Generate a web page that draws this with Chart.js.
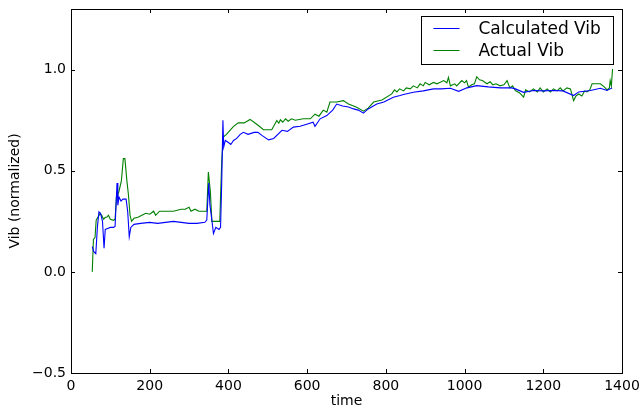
<!DOCTYPE html>
<html>
<head>
<meta charset="utf-8">
<script src="https://cdn.jsdelivr.net/npm/chart.js@4/dist/chart.umd.min.js"></script>
<style>
  html, body { margin: 0; padding: 0; background: #fff; }
  #wrap { width: 641px; height: 413px; }
</style>
</head>
<body>
<div id="wrap"><canvas id="grafico"></canvas></div>
<script>
/* ================= DADOS ================= */
const xTicks = [0, 200, 400, 600, 800, 1000, 1200, 1400];
const yTicks = [-0.5, 0.0, 0.5, 1.0];

const timeCalc = [54, 58, 63, 67, 71, 75, 80, 84, 87, 93, 100, 108, 112, 117, 119, 122, 127, 132, 140, 144, 148, 152,
  160, 177, 200, 220, 240, 260, 280, 300, 320, 340, 345, 350, 353, 357, 362, 368, 376, 380, 383, 386, 388, 392,
  400, 406, 413, 421, 430, 438, 450, 465, 475, 485, 502, 515, 536, 550, 565, 582, 599, 615, 620, 633, 650, 665,
  675, 690, 705, 718, 730, 743, 755, 777, 795, 819, 836, 845, 870, 895, 921, 940, 964, 985, 1006, 1031, 1060,
  1091, 1120, 1129, 1150, 1175, 1200, 1226, 1250, 1277, 1290, 1320, 1345, 1362, 1375];
const vibCalc = [0.125, 0.10, 0.09, 0.22, 0.297, 0.29, 0.25, 0.117, 0.21, 0.215, 0.22, 0.22, 0.225, 0.44, 0.33, 0.37,
  0.35, 0.36, 0.36, 0.30, 0.174, 0.22, 0.235, 0.24, 0.245, 0.24, 0.245, 0.25, 0.245, 0.24, 0.24, 0.245, 0.256,
  0.44, 0.33, 0.27, 0.19, 0.22, 0.21, 0.22, 0.45, 0.75, 0.617, 0.65, 0.64, 0.63, 0.65, 0.66, 0.68, 0.69, 0.68,
  0.69, 0.69, 0.675, 0.653, 0.66, 0.70, 0.695, 0.716, 0.72, 0.73, 0.74, 0.72, 0.757, 0.773, 0.80, 0.83, 0.82,
  0.815, 0.806, 0.80, 0.785, 0.806, 0.83, 0.84, 0.864, 0.872, 0.877, 0.888, 0.895, 0.905, 0.905, 0.908, 0.893,
  0.91, 0.921, 0.915, 0.91, 0.91, 0.905, 0.888, 0.897, 0.895, 0.897, 0.895, 0.872, 0.89, 0.897, 0.908, 0.897, 0.91];

const timeActual = [54, 57, 61, 64, 69, 74, 78, 83, 87, 91, 95, 100, 108, 112, 116, 119, 122, 128, 133, 137, 142, 146,
  150, 154, 160, 170, 180, 190, 200, 210, 215, 225, 240, 260, 280, 290, 300, 305, 315, 325, 340, 345, 349, 354,
  358, 370, 378, 383, 387, 395, 404, 413, 425, 440, 455, 465, 476, 489, 510, 523, 528, 532, 538, 545, 552, 560,
  570, 590, 608, 620, 630, 641, 650, 658, 675, 692, 705, 726, 743, 755, 769, 790, 815, 822, 828, 835, 845, 852,
  862, 870, 880, 887, 895, 900, 910, 921, 930, 947, 955, 959, 964, 975, 980, 993, 1000, 1005, 1010, 1018, 1025,
  1031, 1038, 1045, 1057, 1065, 1072, 1080, 1090, 1100, 1108, 1115, 1122, 1129, 1140, 1150, 1155, 1165, 1175,
  1185, 1192, 1200, 1210, 1218, 1226, 1235, 1243, 1250, 1260, 1269, 1277, 1283, 1290, 1298, 1305, 1311, 1318,
  1324, 1345, 1355, 1362, 1368, 1370, 1373, 1376];
const vibActual = [0.0, 0.16, 0.17, 0.256, 0.272, 0.289, 0.28, 0.26, 0.27, 0.27, 0.28, 0.26, 0.255, 0.26, 0.388, 0.38,
  0.40, 0.45, 0.56, 0.56, 0.45, 0.38, 0.28, 0.25, 0.265, 0.27, 0.28, 0.29, 0.285, 0.30, 0.28, 0.30, 0.30, 0.30,
  0.31, 0.31, 0.32, 0.30, 0.31, 0.30, 0.30, 0.30, 0.494, 0.40, 0.25, 0.25, 0.25, 0.55, 0.667, 0.68, 0.70, 0.72,
  0.737, 0.737, 0.754, 0.74, 0.724, 0.703, 0.703, 0.749, 0.735, 0.752, 0.74, 0.757, 0.745, 0.757, 0.75, 0.757,
  0.757, 0.78, 0.77, 0.80, 0.79, 0.84, 0.84, 0.847, 0.83, 0.814, 0.795, 0.81, 0.84, 0.85, 0.88, 0.90, 0.89, 0.905,
  0.895, 0.91, 0.905, 0.92, 0.91, 0.93, 0.92, 0.937, 0.925, 0.937, 0.93, 0.946, 0.935, 0.962, 0.92, 0.93, 0.92,
  0.946, 0.935, 0.946, 0.913, 0.925, 0.93, 0.965, 0.95, 0.946, 0.93, 0.94, 0.925, 0.93, 0.92, 0.925, 0.946, 0.91,
  0.92, 0.897, 0.885, 0.864, 0.90, 0.89, 0.905, 0.89, 0.91, 0.89, 0.905, 0.89, 0.905, 0.895, 0.91, 0.895, 0.91,
  0.905, 0.847, 0.87, 0.88, 0.87, 0.895, 0.89, 0.90, 0.93, 0.93, 0.915, 0.90, 0.91, 0.946, 0.92, 1.003];

/* ================= AUXILIARES ================= */
function pares(xs, ys) {
  return xs.map((x, i) => ({ x: x, y: ys[i] }));
}

function formatarY(v) {
  const s = v.toFixed(1);
  return v < 0 ? "\u2212" + s.slice(1) : s;
}

const FONTE = '"DejaVu Sans", sans-serif';

/* moldura e ticks para dentro, nos quatro lados */
const moldura = {
  id: "moldura",
  afterDatasetsDraw(chart) {
    const ctx = chart.ctx;
    const a = chart.chartArea;
    const sx = chart.scales.x;
    const sy = chart.scales.y;
    ctx.save();
    ctx.strokeStyle = "#000";
    ctx.lineWidth = 1;
    ctx.beginPath();
    xTicks.forEach(v => {
      const px = Math.round(sx.getPixelForValue(v)) + 0.5;
      ctx.moveTo(px, a.bottom); ctx.lineTo(px, a.bottom - 4);
      ctx.moveTo(px, a.top); ctx.lineTo(px, a.top + 4);
    });
    yTicks.forEach(v => {
      const py = Math.round(sy.getPixelForValue(v)) + 0.5;
      ctx.moveTo(a.left, py); ctx.lineTo(a.left + 4, py);
      ctx.moveTo(a.right, py); ctx.lineTo(a.right - 4, py);
    });
    ctx.stroke();
    ctx.strokeRect(Math.round(a.left) + 0.5, Math.round(a.top) + 0.5,
      Math.round(a.right - a.left), Math.round(a.bottom - a.top));
    ctx.restore();
  }
};

/* legenda com caixa, canto superior direito */
const legenda = {
  id: "legenda",
  afterDraw(chart) {
    const ctx = chart.ctx;
    const a = chart.chartArea;
    const x0 = Math.round(a.right) - 200.5;
    const y0 = Math.round(a.top) + 7.5;
    ctx.save();
    ctx.fillStyle = "#fff";
    ctx.fillRect(x0, y0, 192, 48);
    ctx.strokeStyle = "#000";
    ctx.lineWidth = 1;
    ctx.strokeRect(x0, y0, 192, 48);
    ctx.font = "17px " + FONTE;
    ctx.textBaseline = "middle";
    chart.data.datasets.forEach((ds, i) => {
      const y = y0 + 12 + i * 22;
      ctx.strokeStyle = ds.borderColor;
      ctx.beginPath();
      ctx.moveTo(x0 + 12, y);
      ctx.lineTo(x0 + 38, y);
      ctx.stroke();
      ctx.fillStyle = "#000";
      ctx.fillText(ds.label, x0 + 57, y + 1);
    });
    ctx.restore();
  }
};

/* ================= GRÁFICO ================= */
const ctx = document.getElementById("grafico");

new Chart(ctx, {
  type: "line",
  data: {
    datasets: [
      {
        label: "Calculated Vib",
        data: pares(timeCalc, vibCalc),
        borderColor: "#0000ff",
        borderWidth: 1.1,
        pointRadius: 0,
        tension: 0
      },
      {
        label: "Actual Vib",
        data: pares(timeActual, vibActual),
        borderColor: "#008000",
        borderWidth: 1.1,
        pointRadius: 0,
        tension: 0
      }
    ]
  },
  options: {
    responsive: true,
    maintainAspectRatio: false,
    animation: false,
    layout: { padding: { left: 0, right: 19, top: 9, bottom: 0 } },
    plugins: {
      legend: { display: false },
      tooltip: { enabled: false }
    },
    scales: {
      x: {
        type: "linear",
        min: 0,
        max: 1400,
        grid: { display: false, drawTicks: false },
        border: { display: false },
        afterBuildTicks: s => { s.ticks = xTicks.map(v => ({ value: v })); },
        afterFit: s => { s.height = 40; s.paddingLeft = 0; s.paddingRight = 0; },
        ticks: {
          color: "#000",
          padding: 5,
          maxRotation: 0,
          font: { family: FONTE, size: 14 },
          callback: v => String(v)
        },
        title: {
          display: true,
          text: "time",
          color: "#000",
          font: { family: FONTE, size: 14 },
          padding: { top: 0, bottom: 3 }
        }
      },
      y: {
        min: -0.5,
        max: 1.3,
        grid: { display: false, drawTicks: false },
        border: { display: false },
        afterBuildTicks: s => { s.ticks = yTicks.map(v => ({ value: v })); },
        afterFit: s => { s.width = 71; s.paddingTop = 0; s.paddingBottom = 0; },
        ticks: {
          color: "#000",
          padding: 5,
          font: { family: FONTE, size: 14 },
          callback: v => formatarY(v)
        },
        title: {
          display: true,
          text: "Vib (normalized)",
          color: "#000",
          font: { family: FONTE, size: 14 },
          padding: { top: 7, bottom: 0 }
        }
      }
    }
  },
  plugins: [moldura, legenda]
});
</script>
</body>
</html>
